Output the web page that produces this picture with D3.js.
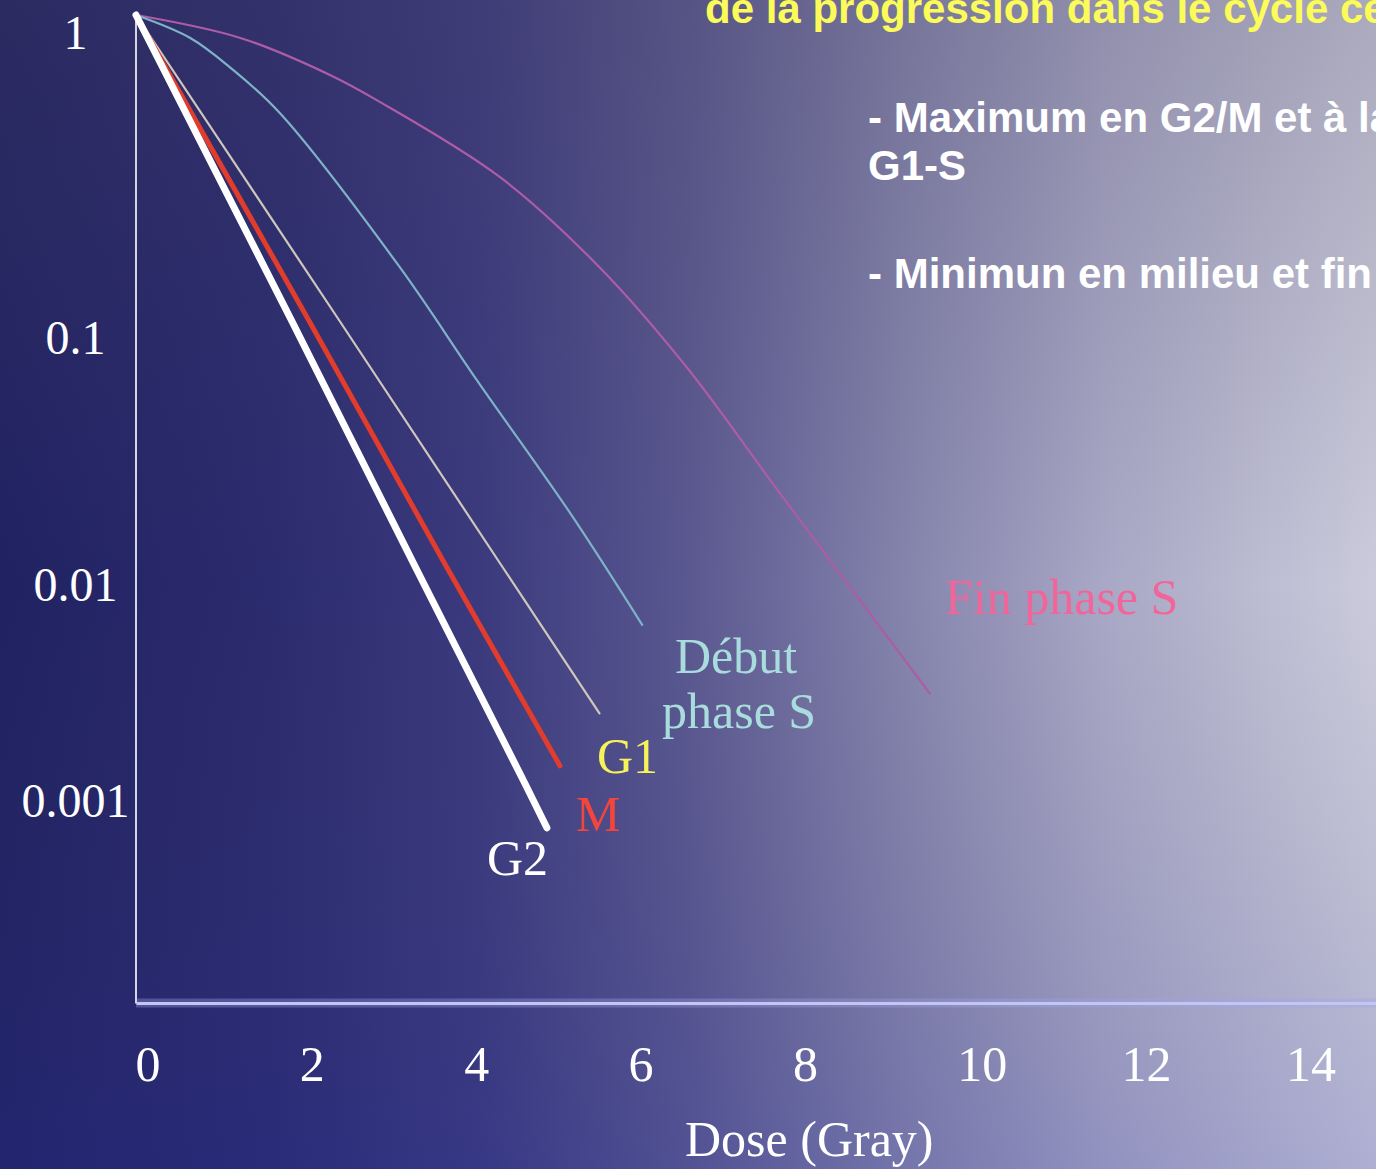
<!DOCTYPE html>
<html>
<head>
<meta charset="utf-8">
<script src="https://cdn.jsdelivr.net/npm/d3@7"></script>
<style>
  html, body { margin: 0; padding: 0; overflow: hidden; background: #212262; }
  svg { display: block; }
</style>
</head>
<body>
<div id="chart"></div>
<script>
// doses (Gy) and surviving fraction
const doseTicks = [0, 2, 4, 6, 8, 10, 12, 14];
const survivalTicks = [1, 0.1, 0.01, 0.001];
const survivalLabels = ['1', '0.1', '0.01', '0.001'];

const g2Dose = [0, 1.89, 3.40, 4.73, 5.00];
const g2Surv = [1, 0.1, 0.01, 0.001, 0.00062];
const mDose = [0, 2.10, 3.78, 5.16];
const mSurv = [1, 0.1, 0.01, 0.0012];
const g1Dose = [0, 2.47, 4.46, 5.64];
const g1Surv = [1, 0.1, 0.01, 0.0021];
const earlySDose = [0, 0.66, 1.14, 1.75, 3.21, 4.15, 5.28, 6.16];
const earlySSurv = [1, 0.841, 0.675, 0.477, 0.149, 0.057, 0.0166, 0.0054];
const lateSDose = [0, 1.27, 2.36, 2.93, 4.43, 5.64, 6.70, 7.83, 9.66];
const lateSSurv = [1, 0.841, 0.636, 0.526, 0.294, 0.149, 0.0645, 0.020, 0.0026];

const W = 1376, H = 1169;
const serif = '"Palatino Linotype", "Book Antiqua", Palatino, "Liberation Serif", "DejaVu Serif", serif';
const sans = 'Arial, "Liberation Sans", Helvetica, sans-serif';

const svg = d3.select('#chart')
    .append('svg')
    .attr('width', W)
    .attr('height', H);

// background gradients
const defs = svg.append('defs');
const bg = defs.append('linearGradient').attr('id', 'bg')
    .attr('x1', 0).attr('x2', 1).attr('y1', 0).attr('y2', 0);
[[0, '#212262'], [0.2, '#2b2b6f'], [0.35, '#3b3a7e'], [0.5, '#5a5890'],
 [0.65, '#8382ab'], [0.8, '#a8a7c5'], [1, '#cbcbdc']].forEach(s => {
    bg.append('stop').attr('offset', s[0]).attr('stop-color', s[1]);
});
const shade = defs.append('linearGradient').attr('id', 'shade')
    .attr('x1', 0).attr('x2', 0).attr('y1', 0).attr('y2', 1);
shade.append('stop').attr('offset', 0).attr('stop-color', '#4a4560').attr('stop-opacity', 0.25);
shade.append('stop').attr('offset', 0.5).attr('stop-color', '#4a4560').attr('stop-opacity', 0);
shade.append('stop').attr('offset', 1).attr('stop-color', '#2830a8').attr('stop-opacity', 0.18);

svg.append('rect').attr('width', W).attr('height', H).attr('fill', 'url(#bg)');
svg.append('rect').attr('width', W).attr('height', H).attr('fill', 'url(#shade)');

// scales
const xScale = d3.scaleLinear()
    .domain([0, 15.09])
    .range([136, W]);

// the slide's decades are not evenly spaced, so map log10 piecewise
const yLog = d3.scaleLinear()
    .domain([0, -1, -2, -3, -4.02])
    .range([15, 320, 567, 783, 1003]);
const yScale = (s) => yLog(Math.log10(s));

// axes
const xAxis = d3.axisBottom(xScale)
    .tickValues(doseTicks)
    .tickSize(0)
    .tickPadding(0);
const gx = svg.append('g')
    .attr('transform', `translate(0, ${yLog(-4.02)})`)
    .call(xAxis);
gx.select('.domain')
    .attr('stroke', '#c3c6f2')
    .attr('stroke-width', 3);
gx.insert('path', '.domain')
    .attr('d', `M${xScale.range()[0]},0H${W}`)
    .attr('stroke', '#a0a4e8')
    .attr('stroke-opacity', 0.35)
    .attr('stroke-width', 9);
gx.selectAll('.tick text')
    .attr('fill', '#fff')
    .attr('font-family', serif)
    .attr('font-size', 50)
    .attr('text-anchor', 'start')
    .attr('x', -1)
    .attr('y', 78)
    .attr('dy', null);

const yAxis = d3.axisLeft(yLog)
    .tickValues(survivalTicks.map(Math.log10))
    .tickFormat((d, i) => survivalLabels[i])
    .tickSize(0)
    .tickSizeOuter(0);
const gy = svg.append('g')
    .attr('transform', `translate(${xScale(0) - 0.5}, 0)`)
    .call(yAxis);
gy.select('.domain')
    .attr('stroke', '#d4d4e4')
    .attr('stroke-width', 2);
gy.selectAll('.tick text')
    .attr('fill', '#fff')
    .attr('font-family', serif)
    .attr('font-size', 48)
    .attr('text-anchor', 'middle')
    .attr('x', -60)
    .attr('dy', null)
    .attr('y', 33);

svg.append('text')
    .attr('x', 685)
    .attr('y', 1156)
    .attr('fill', '#fff')
    .attr('font-family', serif)
    .attr('font-size', 50)
    .text('Dose (Gray)');

// survival curves
const line = d3.line()
    .x(d => xScale(d[0]))
    .y(d => yScale(d[1]));
const smooth = d3.line()
    .x(d => xScale(d[0]))
    .y(d => yScale(d[1]))
    .curve(d3.curveCatmullRom.alpha(0.5));

const curves = [
    { dose: lateSDose, surv: lateSSurv, color: '#ad5ca6', width: 2.2, gen: smooth },
    { dose: earlySDose, surv: earlySSurv, color: '#7fb2c6', width: 2.2, gen: smooth },
    { dose: g1Dose, surv: g1Surv, color: '#cfc7bc', width: 2.2, gen: line },
    { dose: mDose, surv: mSurv, color: '#e23c2c', width: 5, gen: line },
    { dose: g2Dose, surv: g2Surv, color: '#ffffff', width: 7, gen: line }
];
curves.forEach(c => {
    const pts = c.dose.map((d, i) => [d, c.surv[i]]);
    svg.append('path')
        .attr('d', c.gen(pts))
        .attr('fill', 'none')
        .attr('stroke', c.color)
        .attr('stroke-width', c.width)
        .attr('stroke-linecap', 'round');
});

// curve labels
const labels = [
    { t: 'Fin phase S', x: 945, y: 614, c: '#f2659a' },
    { t: 'Début', x: 675, y: 673, c: '#a9dcdc' },
    { t: 'phase S', x: 662, y: 728, c: '#a9dcdc' },
    { t: 'G1', x: 597, y: 773, c: '#f6f35a' },
    { t: 'M', x: 576, y: 831, c: '#f2463c' },
    { t: 'G2', x: 487, y: 875, c: '#ffffff' }
];
svg.selectAll('text.lab')
    .data(labels)
    .enter()
    .append('text')
    .attr('class', 'lab')
    .attr('x', d => d.x)
    .attr('y', d => d.y)
    .attr('fill', d => d.c)
    .attr('font-family', serif)
    .attr('font-size', 50)
    .text(d => d.t);

// slide text (runs off the right edge as in the original)
const slide = svg.append('g')
    .attr('font-family', sans)
    .attr('font-weight', 'bold')
    .attr('font-size', 42);
slide.append('text').attr('x', 705).attr('y', 23).attr('fill', '#fbfb5a')
    .text('de la progression dans le cycle cellulaire');
slide.append('text').attr('x', 868).attr('y', 132).attr('fill', '#fff')
    .text('- Maximum en G2/M et à la transition');
slide.append('text').attr('x', 868).attr('y', 180).attr('fill', '#fff')
    .text('G1-S');
slide.append('text').attr('x', 868).attr('y', 288).attr('fill', '#fff')
    .text('- Minimun en milieu et fin de phase S');
</script>
</body>
</html>
